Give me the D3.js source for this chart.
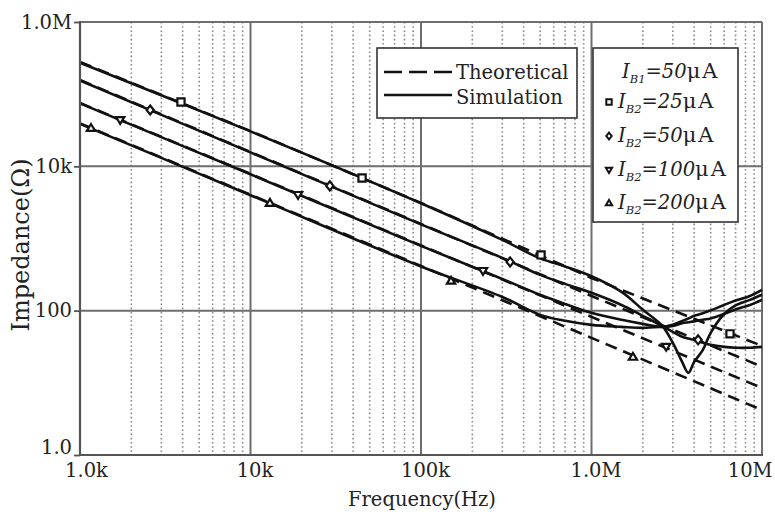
<!DOCTYPE html>
<html>
<head>
<meta charset="utf-8">
<script src="https://cdn.jsdelivr.net/npm/d3@7"></script>
<style>
  html, body { margin: 0; padding: 0; background: #fff; }
  svg { display: block; }
  text { font-family: "DejaVu Serif", "Liberation Serif", serif; fill: #222; }
</style>
</head>
<body>
<svg id="chart" width="775" height="524"></svg>
<script>
// ---------------- data ----------------
const xTickValues = [1e3, 1e4, 1e5, 1e6, 1e7];
const xTickLabels = ["1.0k", "10k", "100k", "1.0M", "10M"];
const yTickValues = [1, 100, 1e4, 1e6];
const yTickLabels = ["1.0", "100", "10k", "1.0M"];

// theoretical curves (dashed), sampled at each decade
const theoFreq = [1e3, 1e4, 1e5, 1e6, 1e7];
const theo25  = [279000, 30900, 3110, 284, 32.5];
const theo50  = [157000, 15800, 1590, 160, 16.7];
const theo100 = [75500, 7850, 801, 82, 8.5];
const theo200 = [39400, 4040, 417, 42, 4.2];

// simulation curves (solid)
const simFreq = [1e3, 1e4, 1e5, 3e5, 5e5, 7e5, 1e6, 1.5e6, 2e6, 2.6e6, 3e6, 3.4e6, 3.7e6, 4e6, 4.5e6, 5e6, 6e6, 7e6, 8.5e6, 1e7];
const sim25  = [272000, 30500, 3080, 955, 530, 410, 300, 182, 103, 61.7, 35.8, 19.5, 13.8, 19.5, 28.6, 49.3, 90, 118, 141, 166];
const sim50  = [155000, 15600, 1570, 538, 313, 235, 177, 120, 84.7, 61.5, 50.8, 43.4, 41, 39.4, 36, 33.6, 31.5, 30.6, 30.6, 31.5];
const sim100 = [74500, 7750, 790, 275, 166, 124, 93.3, 74.6, 65.6, 59.7, 64, 72, 78, 85, 92, 101, 120, 138, 160, 194];
const sim200 = [38800, 3980, 410, 155, 87.5, 72.3, 63.6, 59.7, 57.8, 59.7, 61.5, 67, 69, 71, 75, 78, 90, 104, 120, 141];

// marker positions [frequency, impedance]
const mk25  = [[3.91e3, 78000], [45.1e3, 6900], [506e3, 593], [6.49e6, 47.7]];
const mk50  = [[2.58e3, 60400], [29.2e3, 5360], [333e3, 474], [4.22e6, 39.4]];
const mk100 = [[1.72e3, 43900], [19.0e3, 4020], [231e3, 356], [2.74e6, 31.6]];
const mk200 = [[1.16e3, 34000], [13.0e3, 3110], [150e3, 259], [1.75e6, 22.9]];

const legendSeries = [
  { sym: null, sub: "B1", val: "50" },
  { sym: "square", sub: "B2", val: "25" },
  { sym: "diamond", sub: "B2", val: "50" },
  { sym: "down", sub: "B2", val: "100" },
  { sym: "up", sub: "B2", val: "200" }
];

// ---------------- layout ----------------
const svg = d3.select("#chart");
const L = 80, R = 762, T = 22, B = 455;
const x = d3.scaleLog().domain([1e3, 1e7]).range([L, R]);
const y = d3.scaleLog().domain([1, 1e6]).range([B, T]);

svg.append("rect").attr("width", 775).attr("height", 524).attr("fill", "#fff");

// minor dotted vertical grid
const minor = [];
[1e3, 1e4, 1e5, 1e6].forEach(d => { for (let k = 2; k <= 9; k++) minor.push(k * d); });
svg.append("g").selectAll("line").data(minor).join("line")
  .attr("x1", d => x(d)).attr("x2", d => x(d))
  .attr("y1", T).attr("y2", B)
  .attr("stroke", "#8a8a8a").attr("stroke-width", 1.6)
  .attr("stroke-dasharray", "1.6,2.6");

// major grid
const gridCol = "#6e6e6e";
svg.append("g").selectAll("line").data([1e4, 1e5, 1e6, 1e7]).join("line")
  .attr("x1", d => x(d)).attr("x2", d => x(d)).attr("y1", T).attr("y2", B)
  .attr("stroke", gridCol).attr("stroke-width", 2);
svg.append("g").selectAll("line").data([1e2, 1e4, 1e6]).join("line")
  .attr("x1", L).attr("x2", R).attr("y1", d => y(d)).attr("y2", d => y(d))
  .attr("stroke", gridCol).attr("stroke-width", 2);

// curves
const lineGen = d3.line().x(d => x(d[0])).y(d => y(d[1]));
const simGen = d3.line().x(d => x(d[0])).y(d => y(d[1])).curve(d3.curveCatmullRom.alpha(0.5));
const plot = svg.append("g");
[theo25, theo50, theo100, theo200].forEach(s => {
  plot.append("path").attr("d", lineGen(theoFreq.map((f, i) => [f, s[i]])))
    .attr("fill", "none").attr("stroke", "#111").attr("stroke-width", 2.6)
    .attr("stroke-dasharray", "12,7");
});
[sim25, sim50, sim100, sim200].forEach(s => {
  plot.append("path").attr("d", simGen(simFreq.map((f, i) => [f, s[i]])))
    .attr("fill", "none").attr("stroke", "#111").attr("stroke-width", 2.6);
});

// markers
function symPath(type, s) {
  if (type === "square") return `M${-s},${-s}H${s}V${s}H${-s}Z`;
  if (type === "diamond") return `M0,${-s * 1.25}L${s},0L0,${s * 1.25}L${-s},0Z`;
  if (type === "down") return `M${-s * 1.15},${-s * 0.8}H${s * 1.15}L0,${s * 1.1}Z`;
  if (type === "up") return `M${-s * 1.15},${s * 0.8}H${s * 1.15}L0,${-s * 1.1}Z`;
}
const markerSets = [["square", mk25], ["diamond", mk50], ["down", mk100], ["up", mk200]];
markerSets.forEach(([type, pts]) => {
  plot.append("g").selectAll("path").data(pts).join("path")
    .attr("transform", d => `translate(${x(d[0])},${y(d[1])})`)
    .attr("d", symPath(type, 3.6))
    .attr("fill", "#fff").attr("stroke", "#111").attr("stroke-width", 2.2);
});

// axes
const axisCol = "#555";
const xAxis = svg.append("g").attr("transform", `translate(0,${B})`)
  .call(d3.axisBottom(x).tickValues(xTickValues).tickFormat((d, i) => xTickLabels[i]).tickSize(0).tickPadding(7));
xAxis.select(".domain").remove();
xAxis.selectAll("text").attr("font-size", 19.5).attr("font-family", "DejaVu Serif").attr("fill", "#222")
  .attr("dy", "0.75em")
  .attr("dx", (d, i) => i === 0 ? 6 : (i === xTickValues.length - 1 ? 0 : 4))
  .attr("text-anchor", (d, i) => i === xTickValues.length - 1 ? "end" : "middle")
  .attr("x", (d, i) => i === xTickValues.length - 1 ? 772 - x(d) : 0);

const yAxis = svg.append("g").attr("transform", `translate(${L},0)`)
  .call(d3.axisLeft(y).tickValues(yTickValues).tickFormat((d, i) => yTickLabels[i]).tickSize(6).tickPadding(2));
yAxis.select(".domain").remove();
yAxis.selectAll("line").attr("stroke", axisCol).attr("stroke-width", 1.8);
yAxis.selectAll("text").attr("font-size", 19.5).attr("font-family", "DejaVu Serif").attr("fill", "#222")
  .attr("dy", (d, i) => i === 0 ? "-0.1em" : "0.32em");

svg.append("line").attr("x1", L).attr("x2", L).attr("y1", T - 1).attr("y2", B + 1)
  .attr("stroke", axisCol).attr("stroke-width", 2.2);
svg.append("line").attr("x1", L - 1).attr("x2", R + 1).attr("y1", B).attr("y2", B)
  .attr("stroke", axisCol).attr("stroke-width", 2.2);

// axis titles
svg.append("text").attr("x", (L + R) / 2 + 1).attr("y", 506).attr("text-anchor", "middle")
  .attr("font-size", 19.5).text("Frequency(Hz)");
svg.append("text").attr("transform", "translate(29,245) rotate(-90)").attr("text-anchor", "middle")
  .attr("font-size", 24).text("Impedance(Ω)");

// legend 1
const lg1 = svg.append("g");
lg1.append("rect").attr("x", 377).attr("y", 48).attr("width", 200).attr("height", 70)
  .attr("fill", "#fff").attr("stroke", "#333").attr("stroke-width", 1.6);
lg1.append("line").attr("x1", 384).attr("x2", 452).attr("y1", 72).attr("y2", 72)
  .attr("stroke", "#111").attr("stroke-width", 2.6).attr("stroke-dasharray", "18,7");
lg1.append("line").attr("x1", 384).attr("x2", 452).attr("y1", 95).attr("y2", 95)
  .attr("stroke", "#111").attr("stroke-width", 2.6);
lg1.append("text").attr("x", 456).attr("y", 79).attr("font-size", 19.5).text("Theoretical");
lg1.append("text").attr("x", 456).attr("y", 104).attr("font-size", 19.5).text("Simulation");

// legend 2
const lg2 = svg.append("g");
lg2.append("rect").attr("x", 593).attr("y", 48).attr("width", 145).attr("height", 174)
  .attr("fill", "#fff").attr("stroke", "#333").attr("stroke-width", 1.6);
const rowY = [78, 108, 142, 176, 209];
legendSeries.forEach((s, i) => {
  const by = rowY[i];
  const tx = s.sym ? 618 : 622;
  if (s.sym) {
    lg2.append("path").attr("transform", `translate(609,${by - 6})`)
      .attr("d", symPath(s.sym, 2.7)).attr("fill", "#fff").attr("stroke", "#111").attr("stroke-width", 2);
  }
  const t = lg2.append("text").attr("x", tx).attr("y", by).attr("font-size", 19.5);
  t.append("tspan").attr("font-style", "italic").text("I");
  t.append("tspan").attr("font-style", "italic").attr("font-size", 11.5).attr("dy", 5).text(s.sub);
  t.append("tspan").attr("font-style", "italic").attr("dy", -5).text("=" + s.val);
  t.append("tspan").attr("font-size", 21).text("μ");
  t.append("tspan").attr("dx", 2).attr("font-size", 21).text("A");
});
</script>
</body>
</html>
